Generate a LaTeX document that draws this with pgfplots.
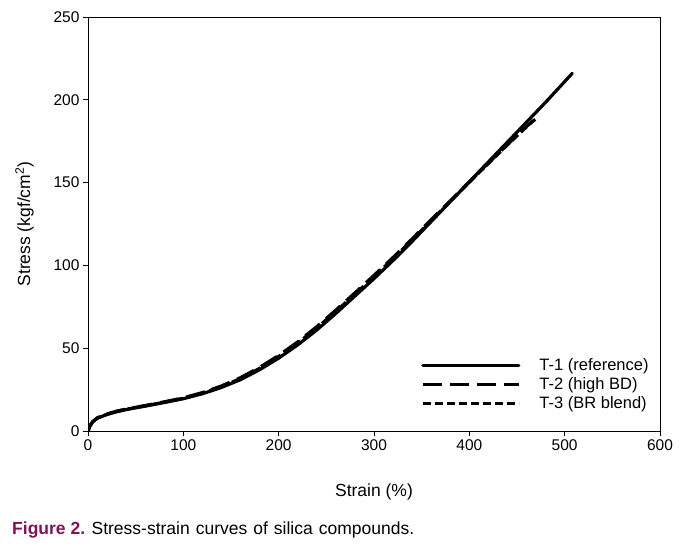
\documentclass[border=0pt]{standalone}
\usepackage{pgfplots}
\pgfplotsset{compat=1.18}
\usepackage{fontspec}
\setmainfont{Liberation Sans}
\definecolor{figpurple}{RGB}{125,20,85}
\begin{document}
\begin{tikzpicture}
\useasboundingbox (0pt,0pt) rectangle (698pt,547pt);
\begin{axis}[
  at={(88pt,116pt)}, anchor=south west,
  scale only axis, width=572pt, height=414pt,
  xmin=0, xmax=600, ymin=0, ymax=250,
  xtick={0,100,...,600}, ytick={0,50,...,250},
  xtick pos=bottom, ytick pos=left,
  tick align=outside, major tick length=5pt,
  tick style={black, line width=0.8pt},
  axis line style={line width=0.8pt},
  /pgf/number format/assume math mode=true,
  ticklabel style={font=\fontsize{15.5}{18}\selectfont},
  label style={font=\fontsize{17.5}{20}\selectfont},
  xlabel={Strain (\%)}, ylabel={Stress (kgf/cm\textsuperscript{2})},
  xlabel style={yshift=-26pt},
  ylabel style={yshift=13pt},
  legend style={draw=none, fill=none, at={(0.577,0.183)}, anchor=north west,
    font=\fontsize{16.5}{18}\selectfont, row sep=2.5pt,
    nodes={inner xsep=3pt, inner ysep=1.5pt}},
  legend cell align=left,
  legend image code/.code={\draw[#1] (0pt,0pt) -- (96pt,0pt);},
]
\addplot[black, line width=3.2pt, line cap=round] coordinates {
(0,0) (2,3) (5,5.5) (10,7.8) (20,10) (30,11.6) (40,12.9) (50,14) (60,15) (80,17.2) (100,19.5) (120,22.5) (140,26.3) (160,31) (180,37) (200,44) (220,52) (240,61) (260,71) (280,81.5) (300,92) (320,103) (340,114.5) (360,126.5) (380,138.5) (400,150.5) (420,162.5) (440,174.5) (460,186.5) (480,198.5) (508,216)
};
\addlegendentry{\hspace{16pt}T-1 (reference)}
\addplot[black, line width=3.2pt, dash pattern=on 19pt off 8pt] coordinates {
(0,0) (2,3.2) (5,5.8) (10,8) (20,10.3) (30,12) (40,13.2) (50,14.3) (60,15.4) (80,17.6) (100,20) (120,23.2) (140,27.2) (160,32.2) (180,38.4) (200,45.6) (220,53.8) (240,63) (260,73) (280,83.4) (300,94) (320,104.8) (340,116) (360,127.6) (380,139) (400,150.4) (420,161.8) (440,173) (460,184) (471,189)
};
\addlegendentry{\hspace{16pt}T-2 (high BD)}
\addplot[black, line width=3.2pt, dash pattern=on 8pt off 4pt] coordinates {
(0,0) (2,3.1) (5,5.6) (10,7.9) (20,10.1) (30,11.8) (40,13.1) (50,14.2) (60,15.2) (80,17.4) (100,19.8) (120,22.9) (140,26.8) (160,31.7) (180,37.8) (200,45) (220,53.1) (240,62.2) (260,72.2) (280,82.6) (300,93.2) (320,104.1) (340,115.4) (360,127.1) (380,138.7) (400,150.2) (420,161.6) (440,172.8) (467,187.5)
};
\addlegendentry{\hspace{16pt}T-3 (BR blend)}
\end{axis}
\node[anchor=base west, inner sep=0pt, font=\fontsize{17.5}{20}\selectfont] at (12pt,13pt)
  {\textcolor{figpurple}{\textbf{Figure 2.}} Stress-strain\hspace{6pt}curves\hspace{6pt}of\hspace{6pt}silica\hspace{6pt}compounds.};
\end{tikzpicture}
\end{document}
